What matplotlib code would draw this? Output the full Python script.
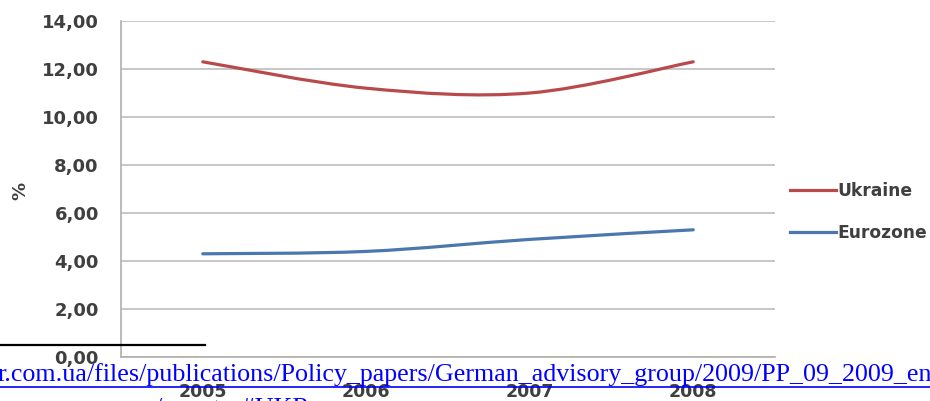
import numpy as np
import matplotlib
matplotlib.use("Agg")
import matplotlib.pyplot as plt
from matplotlib.path import Path
from matplotlib.patches import PathPatch
from matplotlib.lines import Line2D
from matplotlib.ticker import FuncFormatter

# ---- dados ----
anos = ["2005", "2006", "2007", "2008"]
ukraine = [12.3, 11.2, 11.0, 12.3]
eurozone = [4.3, 4.4, 4.9, 5.3]
y_ticks = [0, 2, 4, 6, 8, 10, 12, 14]
series_names = ["Ukraine", "Eurozone"]

COR_UKR = "#B84A4C"
COR_EUR = "#4A78AE"
COR_TXT = "#3F3F3F"
COR_GRID = "#BDBDBD"
COR_LINK = "#0000FF"

W, H = 930, 401


def smooth_path(xs, ys):
    # curva suavizada estilo Excel (Bezier com pontos de controle tipo Catmull-Rom)
    pts = np.column_stack([xs, ys]).astype(float)
    n = len(pts)
    verts = [pts[0]]
    codes = [Path.MOVETO]
    for i in range(n - 1):
        p0 = pts[i - 1] if i > 0 else pts[i]
        p1, p2 = pts[i], pts[i + 1]
        p3 = pts[i + 2] if i + 2 < n else pts[i + 1]
        c1 = p1 + (p2 - p0) / 6.0
        c2 = p2 - (p3 - p1) / 6.0
        verts += [c1, c2, p2]
        codes += [Path.CURVE4] * 3
    return Path(verts, codes)


fig = plt.figure(figsize=(W / 100, H / 100), dpi=100)
ax = fig.add_axes([121 / W, 1 - 357 / H, (775 - 121) / W, (357 - 21) / H])

x = np.arange(len(anos))
for vals, cor in [(ukraine, COR_UKR), (eurozone, COR_EUR)]:
    ax.add_patch(PathPatch(smooth_path(x, vals), fc="none", ec=cor,
                           lw=2.3, capstyle="round", zorder=3))

ax.set_xlim(-0.5, len(anos) - 0.5)
ax.set_ylim(0, 14)
ax.set_yticks(y_ticks)
ax.yaxis.set_major_formatter(FuncFormatter(lambda v, pos=None: f"{v:.2f}".replace(".", ",")))
ax.set_xticks(x)
ax.set_xticklabels(anos)
ax.grid(axis="y", color=COR_GRID, lw=1.2)
ax.set_axisbelow(True)
for s in ["top", "right"]:
    ax.spines[s].set_visible(False)
for s in ["left", "bottom"]:
    ax.spines[s].set_color("#AFAFAF")
    ax.spines[s].set_linewidth(1.2)
ax.tick_params(axis="y", length=0, pad=16, labelsize=13, labelcolor=COR_TXT)
ax.tick_params(axis="x", length=0, pad=19, labelsize=12.5, labelcolor=COR_TXT)
for lab in ax.get_xticklabels() + ax.get_yticklabels():
    lab.set_fontweight("bold")

ax.set_ylabel("%", fontsize=13, fontweight="bold", color=COR_TXT)
ax.yaxis.set_label_coords(-(121 - 29) / 654, (357 - 191) / 336)

handles = [Line2D([0], [0], color=COR_UKR, lw=2.3),
           Line2D([0], [0], color=COR_EUR, lw=2.3)]
leg = fig.legend(handles, series_names, loc="center left",
                 bbox_to_anchor=(790 / W, 1 - 212 / H), frameon=False,
                 handlelength=2.7, handletextpad=0.1, labelspacing=1.35,
                 borderpad=0, borderaxespad=0,
                 prop={"size": 12.3, "weight": "bold"})
for t in leg.get_texts():
    t.set_color(COR_TXT)

# ---- rodapé sobreposto (nota de rodapé do documento) ----
fig.add_artist(Line2D([0, 205 / W], [1 - 345 / H] * 2, color="black", lw=1.6))
fig.text(-2 / W, 1 - 381 / H,
         "r.com.ua/files/publications/Policy_papers/German_advisory_group/2009/PP_09_2009_eng.pdf",
         fontsize=18.7, family="Liberation Serif", color=COR_LINK, va="baseline", zorder=5)
fig.add_artist(Line2D([0, 1], [1 - 387 / H] * 2, color=COR_LINK, lw=1.2, zorder=5))
fig.text(155 / W, 1 - 415 / H, "/country#UKR",
         fontsize=18.7, family="Liberation Serif", color=COR_LINK, va="baseline", zorder=5)

fig.savefig("out.png", dpi=100)
